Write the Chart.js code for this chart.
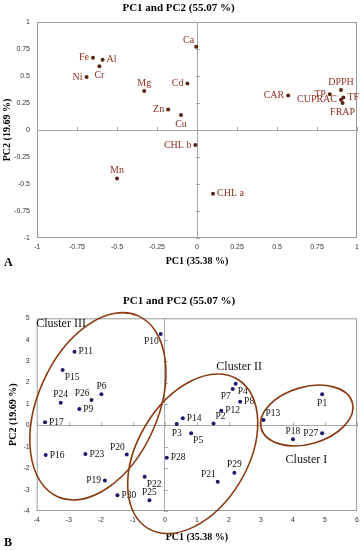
<!DOCTYPE html>
<html>
<head>
<meta charset="utf-8">
<script src="https://cdn.jsdelivr.net/npm/chart.js@4.4.1/dist/chart.umd.min.js"></script>
<style>
  html, body { margin: 0; padding: 0; background: #fff; }
  .panel { position: relative; width: 364px; }
  #panel-a { height: 270px; }
  #panel-b { height: 280px; }
</style>
</head>
<body>
<div class="panel" id="panel-a"><canvas id="loadings-chart"></canvas></div>
<div class="panel" id="panel-b"><canvas id="scores-chart"></canvas></div>
<script>
// panel A - loadings
const loadingNames = ['Fe', 'Al', 'Cr', 'Ni', 'Mg', 'Cd', 'Ca', 'Zn', 'Cu', 'CAR', 'TP', 'DPPH', 'TF', 'CUPRAC', 'FRAP', 'CHL b', 'Mn', 'CHL a'];
const loadingPC1 = [-0.65, -0.59, -0.61, -0.69, -0.33, -0.06, -0.005, -0.18, -0.10, 0.57, 0.83, 0.90, 0.915, 0.90, 0.91, -0.01, -0.50, 0.10];
const loadingPC2 = [0.67, 0.65, 0.59, 0.49, 0.36, 0.43, 0.77, 0.19, 0.14, 0.32, 0.33, 0.37, 0.30, 0.28, 0.25, -0.14, -0.45, -0.59];
const loadingSide = ['l', 'r', 'b', 'l', 't', 'l', 'tl', 'l', 'b', 'l', 'l', 't', 'r', 'l', 'b', 'l', 't', 'r'];
const loadingTicks = [-1, -0.75, -0.5, -0.25, 0, 0.25, 0.5, 0.75, 1];

// panel B - scores
const sampleNames = ['P1', 'P2', 'P3', 'P4', 'P5', 'P6', 'P7', 'P8', 'P9', 'P10', 'P11', 'P12', 'P13', 'P14', 'P15',
  'P16', 'P17', 'P18', 'P19', 'P20', 'P21', 'P22', 'P23', 'P24', 'P25', 'P26', 'P27', 'P28', 'P29', 'P30'];
const samplePC1 = [4.91, 1.52, 0.37, 2.21, 0.82, -1.98, 2.12, 2.35, -2.67, -0.13, -2.82, 1.76, 3.08, 0.56, -3.19,
  -3.72, -3.74, 4.00, -1.87, -1.19, 1.65, -0.63, -2.48, -3.25, -0.48, -2.29, 4.91, 0.06, 2.17, -1.48];
const samplePC2 = [1.45, 0.09, 0.06, 1.94, -0.37, 1.45, 1.70, 1.10, 0.76, 4.27, 3.44, 0.68, 0.25, 0.33, 2.58,
  -1.39, 0.15, -0.65, -2.57, -1.36, -2.63, -2.40, -1.34, 1.06, -3.50, 1.18, -0.37, -1.51, -2.21, -3.26];
const sampleSide = ['b', 'tr', 'b', 'br', 'br', 't', 'bl', 'r', 'r', 'bl', 'r', 'r', 'tr', 'r', 'br',
  'r', 'r', 't', 'l', 'tl', 'tl', 'br', 'r', 't', 't', 'tl', 'l', 'r', 't', 'r'];
const scoreTicksX = [-4, -3, -2, -1, 0, 1, 2, 3, 4, 5, 6];
const scoreTicksY = [-4, -3, -2, -1, 0, 1, 2, 3, 4, 5];

const clusterNames = ['Cluster I', 'Cluster II', 'Cluster III'];
const clusterCenters = [[4.43, 0.46], [0.87, -1.33], [-2.09, 0.89]];
const clusterTextAt = [[4.42, -1.62], [2.32, 2.74], [-3.24, 4.73]];

const serif = "'Liberation Serif', 'Times New Roman', serif";
const sans = "'Liberation Sans', Arial, sans-serif";

const pcaDecor = {
  id: 'pcaDecor',
  beforeDatasetsDraw(chart, args, opts) {
    const { ctx, chartArea: a, scales: { x, y } } = chart;
    const x0 = x.getPixelForValue(0);
    const y0 = y.getPixelForValue(0);
    ctx.save();
    ctx.strokeStyle = '#9a9a9a';
    ctx.lineWidth = 1;
    ctx.strokeRect(a.left + 0.5, a.top + 0.5, a.right - a.left - 1, a.bottom - a.top - 1);
    ctx.strokeStyle = '#a8a8a8';
    ctx.beginPath();
    x.ticks.forEach((t) => {
      const px = Math.round(x.getPixelForValue(t.value)) + 0.5;
      ctx.moveTo(px, y0 - 3);
      ctx.lineTo(px, y0 + 1);
    });
    y.ticks.forEach((t) => {
      const py = Math.round(y.getPixelForValue(t.value)) + 0.5;
      ctx.moveTo(x0 - 1, py);
      ctx.lineTo(x0 + 3, py);
    });
    ctx.stroke();
    ctx.restore();
  },
  afterDatasetsDraw(chart, args, opts) {
    const { ctx, scales: { x, y } } = chart;
    const meta = chart.getDatasetMeta(0);
    ctx.save();
    ctx.font = opts.labelFont;
    ctx.fillStyle = opts.labelColor;
    ctx.textBaseline = 'middle';
    meta.data.forEach((pt, i) => {
      const side = opts.sides[i];
      let dx = 0;
      let dy = 0;
      let align = 'center';
      if (side.includes('l')) { dx = -4; align = 'right'; }
      if (side.includes('r')) { dx = 4; align = 'left'; }
      if (side.includes('t')) { dy = -8; }
      if (side.includes('b')) { dy = 9; }
      if (side.length === 2) { dx = dx / 2; dy = dy * 0.85; }
      ctx.textAlign = align;
      ctx.fillText(opts.names[i], pt.x + dx, pt.y + dy);
    });

    if (opts.clusters) {
      ctx.strokeStyle = '#8a3b12';
      ctx.lineWidth = 1.6;
      opts.clusters.forEach((c) => {
        ctx.save();
        ctx.translate(x.getPixelForValue(c.center[0]), y.getPixelForValue(c.center[1]));
        ctx.rotate(-c.angle * Math.PI / 180);
        ctx.beginPath();
        ctx.ellipse(0, 0, c.rx, c.ry, 0, 0, Math.PI * 2);
        ctx.stroke();
        ctx.restore();
      });
      ctx.font = `12px ${serif}`;
      ctx.fillStyle = '#111';
      ctx.textAlign = 'center';
      opts.clusters.forEach((c) => {
        ctx.fillText(c.name, x.getPixelForValue(c.textAt[0]), y.getPixelForValue(c.textAt[1]));
      });
    }

    ctx.font = `bold 12px ${serif}`;
    ctx.fillStyle = '#000';
    ctx.textAlign = 'left';
    ctx.fillText(opts.letter, 4, opts.letterY);
    ctx.restore();
  },
};

function makeScales(cfg) {
  const grid = {
    color: (c) => (c.tick && c.tick.value === 0 ? '#a8a8a8' : 'rgba(0,0,0,0)'),
    drawTicks: false,
    lineWidth: 1,
  };
  const titleFont = { family: serif, size: 10, weight: 'bold' };
  const tickText = (v) => String(v);
  return {
    x: {
      type: 'linear',
      min: cfg.xTicks[0],
      max: cfg.xTicks[cfg.xTicks.length - 1],
      afterBuildTicks: (s) => { s.ticks = cfg.xTicks.map((v) => ({ value: v })); },
      afterFit: (s) => { s.height = cfg.xHeight; },
      grid,
      border: { display: false },
      ticks: { font: { family: sans, size: 7 }, color: '#333', padding: 5, maxRotation: 0, autoSkip: false, callback: tickText },
      title: { display: true, text: 'PC1 (35.38 %)', font: titleFont, color: '#000', padding: { top: 0, bottom: cfg.xTitlePad } },
    },
    y: {
      type: 'linear',
      min: cfg.yTicks[0],
      max: cfg.yTicks[cfg.yTicks.length - 1],
      afterBuildTicks: (s) => { s.ticks = cfg.yTicks.map((v) => ({ value: v })); },
      afterFit: (s) => { s.width = cfg.yWidth; },
      grid,
      border: { display: false },
      ticks: { font: { family: sans, size: 7 }, color: '#333', padding: 7, autoSkip: false, callback: tickText },
      title: { display: true, text: 'PC2 (19.69 %)', font: titleFont, color: '#000', padding: { top: cfg.yTitlePad, bottom: 0 } },
    },
  };
}

new Chart(document.querySelector('#loadings-chart'), {
  type: 'scatter',
  data: {
    datasets: [{
      data: loadingPC1.map((v, i) => ({ x: v, y: loadingPC2[i] })),
      backgroundColor: '#5b2410',
      borderWidth: 0,
      pointRadius: 2,
    }],
  },
  options: {
    responsive: true,
    maintainAspectRatio: false,
    animation: false,
    layout: { padding: { left: 0, right: 7, top: 0, bottom: 0 } },
    scales: makeScales({ xTicks: loadingTicks, yTicks: loadingTicks, xHeight: 32, yWidth: 37, xTitlePad: 3, yTitlePad: 1 }),
    plugins: {
      legend: { display: false },
      tooltip: { enabled: false },
      title: {
        display: true,
        text: 'PC1 and PC2 (55.07 %)',
        color: '#000',
        font: { family: serif, size: 11, weight: 'bold' },
        padding: { top: 1.4, bottom: 7.4 },
      },
      pcaDecor: {
        names: loadingNames,
        sides: loadingSide,
        labelFont: `10px ${serif}`,
        labelColor: '#8f3020',
        letter: 'A',
        letterY: 263,
      },
    },
  },
  plugins: [pcaDecor],
});

new Chart(document.querySelector('#scores-chart'), {
  type: 'scatter',
  data: {
    datasets: [{
      data: samplePC1.map((v, i) => ({ x: v, y: samplePC2[i] })),
      backgroundColor: '#1a1a6b',
      borderWidth: 0,
      pointRadius: 2,
    }],
  },
  options: {
    responsive: true,
    maintainAspectRatio: false,
    animation: false,
    layout: { padding: { left: 0, right: 5.7, top: 0, bottom: 0 } },
    scales: makeScales({ xTicks: scoreTicksX, yTicks: scoreTicksY, xHeight: 39, yWidth: 36.7, xTitlePad: 6.3, yTitlePad: 7 }),
    plugins: {
      legend: { display: false },
      tooltip: { enabled: false },
      title: {
        display: true,
        text: 'PC1 and PC2 (55.07 %)',
        color: '#000',
        font: { family: serif, size: 11, weight: 'bold' },
        padding: { top: 24.4, bottom: 10.7 },
      },
      pcaDecor: {
        names: sampleNames,
        sides: sampleSide,
        labelFont: `9.5px ${serif}`,
        labelColor: '#111',
        letter: 'B',
        letterY: 273,
        clusters: [
          { name: clusterNames[0], center: clusterCenters[0], textAt: clusterTextAt[0], rx: 47.4, ry: 28.5, angle: 16 },
          { name: clusterNames[1], center: clusterCenters[1], textAt: clusterTextAt[1], rx: 87, ry: 55, angle: 59 },
          { name: clusterNames[2], center: clusterCenters[2], textAt: clusterTextAt[2], rx: 99, ry: 60, angle: 66 },
        ],
      },
    },
  },
  plugins: [pcaDecor],
});
</script>
</body>
</html>
